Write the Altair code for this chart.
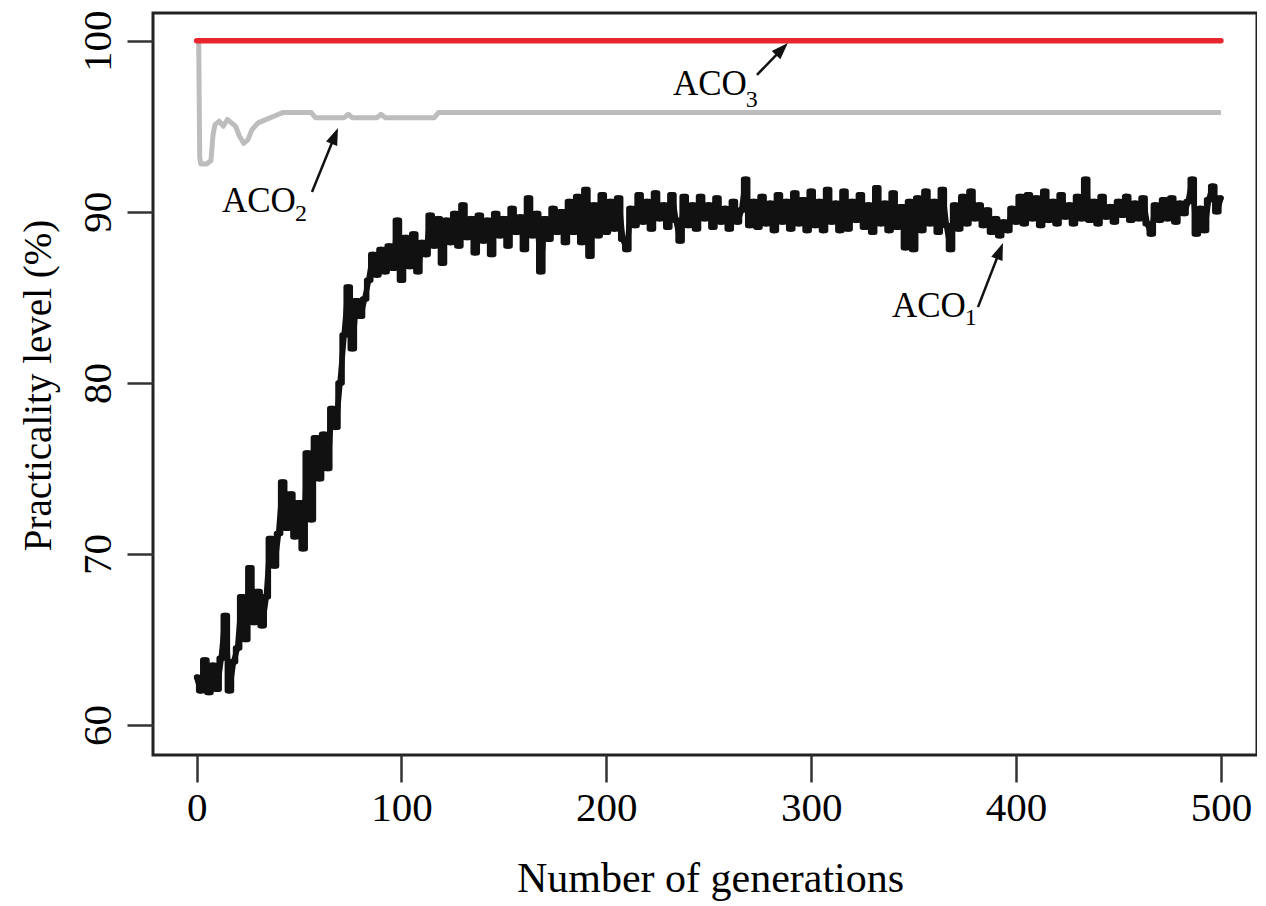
import altair as alt
import pandas as pd

# ---------------- data ----------------
# ACO1 (black), one value every 2 generations, gen 0 .. 500
aco1_values = [
    62.8, 62.0, 63.8, 61.9, 63.5, 62.1, 63.9, 66.4, 62.0, 63.7,   # 0-18
    64.5, 67.5, 65.0, 69.2, 66.0, 67.8, 65.8, 67.5, 70.9, 69.3,   # 20-38
    71.2, 74.2, 71.5, 73.5, 71.0, 73.0, 70.3, 75.9, 72.0, 76.8,   # 40-58
    74.4, 77.0, 75.0, 78.5, 77.4, 80.0, 82.8, 85.6, 82.0, 84.8,   # 60-78
    83.9, 84.9, 86.0, 87.5, 86.3, 87.8, 86.5, 88.0, 86.7, 89.5,   # 80-98
    86.0, 88.5, 86.8, 88.7, 86.5, 88.2, 87.5, 89.8, 88.0, 89.6,   # 100-118
    87.0, 89.5, 88.2, 89.9, 88.0, 90.4, 88.5, 89.6, 87.6, 89.8,   # 120-138
    88.3, 89.5, 87.5, 89.9, 88.6, 89.6, 88.0, 90.2, 88.8, 89.7,   # 140-158
    87.8, 90.8, 88.6, 89.9, 86.5, 89.6, 88.4, 90.2, 88.8, 90.0,   # 160-178
    88.2, 90.6, 88.8, 90.9, 88.2, 91.3, 87.4, 90.4, 88.6, 91.0,   # 180-198
    88.8, 90.6, 89.0, 90.8, 88.4, 87.8, 90.2, 89.2, 91.0, 89.4,   # 200-218
    90.6, 89.0, 91.1, 89.6, 90.4, 89.1, 91.0, 89.5, 88.3, 90.9,   # 220-238
    89.2, 90.4, 89.0, 90.9, 89.6, 90.4, 89.1, 90.8, 89.4, 90.2,   # 240-258
    89.0, 90.6, 89.4, 90.1, 91.9, 89.2, 90.6, 89.1, 90.9, 89.3,   # 260-278
    90.5, 88.9, 91.0, 89.4, 90.6, 89.0, 91.1, 89.3, 90.7, 88.9,   # 280-298
    91.2, 89.2, 90.6, 88.9, 91.3, 89.4, 90.5, 88.9, 91.2, 89.0,   # 300-318
    90.6, 89.5, 91.0, 89.1, 90.4, 88.8, 91.4, 89.3, 90.5, 88.9,   # 320-338
    91.1, 89.1, 90.3, 87.9, 90.6, 87.8, 90.8, 88.9, 91.2, 89.3,   # 340-358
    90.6, 88.8, 91.3, 89.2, 87.8, 90.4, 89.0, 90.9, 89.3, 91.2,   # 360-378
    89.6, 90.4, 89.2, 90.1, 88.8, 89.6, 88.6, 89.4, 88.9, 90.2,   # 380-398
    89.4, 90.9, 89.3, 91.0, 89.6, 90.8, 89.2, 91.2, 89.5, 90.6,   # 400-418
    89.3, 91.0, 89.7, 90.4, 89.3, 90.9, 89.6, 91.9, 89.5, 90.6,   # 420-438
    89.3, 90.9, 89.7, 90.3, 89.4, 90.6, 89.8, 90.9, 89.5, 90.5,   # 440-458
    89.6, 90.8, 89.3, 88.7, 90.4, 89.5, 90.7, 89.6, 90.8, 89.4,   # 460-478
    90.5, 89.9, 90.6, 91.9, 88.7, 90.2, 88.9, 90.7, 91.5, 90.0,   # 480-498
    90.8,                                                         # 500
]
aco1_gen = list(range(0, 2 * len(aco1_values), 2))

# ACO2 (grey)
aco2_gen = [1, 1.5, 2, 5, 7, 8, 9, 11, 13, 15, 17, 19, 21, 23, 25, 27, 30, 34,
            38, 42, 56, 58, 72, 74, 76, 88, 90, 92, 116, 118, 500]
aco2_values = [100, 93.2, 92.8, 92.8, 93.0, 94.5, 95.1, 95.3, 95.0, 95.4, 95.2,
               95.0, 94.4, 94.0, 94.2, 94.8, 95.2, 95.4, 95.6, 95.8, 95.8, 95.5,
               95.5, 95.7, 95.5, 95.5, 95.7, 95.5, 95.5, 95.8, 95.8]

# ACO3 (red)
aco3_gen = [0, 500]
aco3_values = [100, 100]

# Axis ticks
x_ticks = [0, 100, 200, 300, 400, 500]
y_ticks = [60, 70, 80, 90, 100]

# Annotations
label_text = ["ACO", "ACO", "ACO"]
label_gen = [232.5, 12.35, 339.4]
label_val = [96.82, 89.99, 83.85]
sub_text = ["3", "2", "1"]
sub_gen = [268.0, 48.0, 375.0]
sub_val = [96.12, 89.46, 83.38]
arrow_start_gen = [273.5, 56.3, 381.4]
arrow_start_val = [98.0, 91.16, 84.43]
arrow_end_gen = [284.5, 66.8, 391.4]
arrow_end_val = [99.36, 94.25, 87.52]
arrow_tip_gen = [288.6, 69.0, 393.6]
arrow_tip_val = [99.87, 94.90, 88.18]
arrow_angle = [44, 22, 21]

# ---------------- chart ----------------
FONT = "Liberation Serif"

df1 = pd.DataFrame({"gen": aco1_gen, "val": aco1_values})
df2 = pd.DataFrame({"gen": aco2_gen, "val": aco2_values})
df3 = pd.DataFrame({"gen": aco3_gen, "val": aco3_values})
df_lab = pd.DataFrame({"gen": label_gen, "val": label_val, "t": label_text})
df_sub = pd.DataFrame({"gen": sub_gen, "val": sub_val, "t": sub_text})
df_arr = pd.DataFrame({"gen": arrow_start_gen, "val": arrow_start_val,
                       "gen2": arrow_end_gen, "val2": arrow_end_val})
df_head = pd.DataFrame({"gen": arrow_tip_gen, "val": arrow_tip_val, "ang": arrow_angle})

x_scale = alt.Scale(domain=[-21.3, 517.6], nice=False, zero=False)
y_scale = alt.Scale(domain=[58.25, 101.62], nice=False, zero=False)

x_axis = alt.Axis(
    values=x_ticks, title="Number of generations", grid=False, domain=False,
    tickSize=27, tickWidth=2.5, tickColor="#333",
    labelFont=FONT, labelFontSize=41, labelColor="black", labelPadding=38,
    labelBaseline="alphabetic", labelFlush=False, labelOverlap=False,
    titleFont=FONT, titleFontSize=42, titleFontWeight="normal", titleColor="black",
    titleX=557, titleY=136, titleAlign="center", titleBaseline="alphabetic",
)
y_axis = alt.Axis(
    values=y_ticks, title="Practicality level (%)", grid=False, domain=False,
    tickSize=26, tickWidth=2.5, tickColor="#333",
    labelFont=FONT, labelFontSize=41, labelColor="black", labelPadding=17,
    labelAngle=270, labelAlign="center", labelBaseline="alphabetic",
    labelFlush=False, labelOverlap=False,
    titleFont=FONT, titleFontSize=39, titleFontWeight="normal", titleColor="black",
    titleAngle=270, titleX=-103, titleY=372, titleAlign="center",
    titleBaseline="alphabetic",
)

X = alt.X("gen:Q", scale=x_scale, axis=x_axis)
Y = alt.Y("val:Q", scale=y_scale, axis=y_axis)

# ACO1 drawn twice (step + linear) so the dense oscillation reads as a solid band
line1_step = alt.Chart(df1).mark_line(
    color="#111111", strokeWidth=5.5, interpolate="step", strokeJoin="round", strokeCap="round"
).encode(x=X, y=Y)
line1_lin = alt.Chart(df1).mark_line(
    color="#111111", strokeWidth=5.5, strokeJoin="round", strokeCap="round"
).encode(x=X, y=Y)
line2 = alt.Chart(df2).mark_line(
    color="#bdbdbd", strokeWidth=5, strokeJoin="round"
).encode(x=X, y=Y)
line3 = alt.Chart(df3).mark_line(
    color="#e8262d", strokeWidth=5.5, strokeCap="round"
).encode(x=X, y=Y)

labels = alt.Chart(df_lab).mark_text(
    font=FONT, fontSize=35, color="black", align="left", baseline="alphabetic"
).encode(x=X, y=Y, text="t:N")
subs = alt.Chart(df_sub).mark_text(
    font=FONT, fontSize=24, color="black", align="left", baseline="alphabetic"
).encode(x=X, y=Y, text="t:N")
arrows = alt.Chart(df_arr).mark_rule(color="#111111", strokeWidth=2.5).encode(
    x=X, y=Y, x2=alt.X2("gen2"), y2=alt.Y2("val2")
)
heads = alt.Chart(df_head).mark_point(
    shape="M0,0L0.6,1.7L-0.6,1.7Z", filled=True, color="#111111", opacity=1, size=400
).encode(x=X, y=Y, angle=alt.Angle("ang:Q", scale=None))

chart = alt.layer(line1_step, line1_lin, line2, line3, arrows, heads, labels, subs).properties(
    width=1104,
    height=742,
    autosize=alt.AutoSizeParams(type="none"),
    padding={"left": 145, "top": 5, "right": 0, "bottom": 150},
    background="white",
).configure_view(stroke="#222222", strokeWidth=3)

chart.save("out.html", embed_options={"renderer": "svg", "actions": False})
